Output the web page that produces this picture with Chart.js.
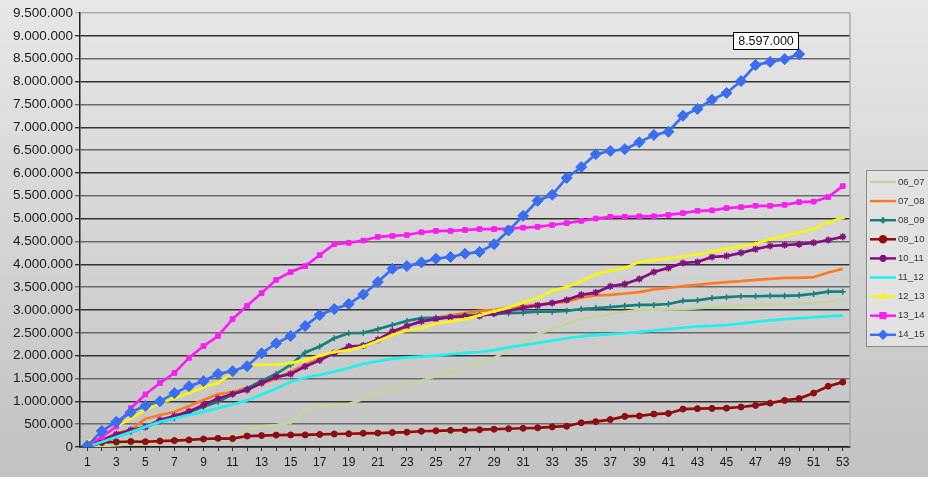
<!DOCTYPE html>
<html>
<head>
<meta charset="utf-8">
<script src="https://cdn.jsdelivr.net/npm/chart.js@4/dist/chart.umd.min.js"></script>
<style>
  html, body { margin: 0; padding: 0; background: #d4d4d4; }
  #wrap { position: relative; width: 928px; height: 477px; }
</style>
</head>
<body>
<div id="wrap"><canvas id="c" width="928" height="477"></canvas></div>
<script>
// Week numbers of the season
const weeks = ['1','2','3','4','5','6','7','8','9','10','11','12','13','14','15','16','17','18','19','20',
  '21','22','23','24','25','26','27','28','29','30','31','32','33','34','35','36','37','38','39','40',
  '41','42','43','44','45','46','47','48','49','50','51','52','53'];

// Cumulative totals per season
const s06_07 = [0,20000,40000,60000,80000,100000,120000,140000,160000,180000,250000,380000,450000,480000,530000,800000,890000,910000,940000,1050000,
  1200000,1280000,1380000,1450000,1550000,1640000,1740000,1840000,1950000,2120000,2280000,2480000,2580000,2700000,2800000,2860000,2900000,2960000,3000000,3000000,
  3010000,3020000,3040000,3060000,3080000,3100000,3110000,3120000,3130000,3140000,3150000,3180000,3240000];
const s07_08 = [0,150000,300000,380000,620000,700000,770000,900000,1030000,1160000,1200000,1300000,1380000,1500000,1650000,1800000,1930000,2050000,2150000,2200000,
  2320000,2480000,2650000,2750000,2820000,2880000,2930000,2980000,3000000,3050000,3080000,3120000,3150000,3180000,3270000,3320000,3330000,3360000,3390000,3450000,
  3480000,3520000,3550000,3580000,3610000,3630000,3660000,3680000,3700000,3700000,3720000,3820000,3900000];
const s08_09 = [0,100000,220000,330000,440000,550000,630000,760000,880000,990000,1150000,1280000,1450000,1600000,1800000,2070000,2200000,2380000,2490000,2500000,
  2580000,2670000,2760000,2820000,2830000,2850000,2880000,2890000,2910000,2930000,2940000,2960000,2960000,2980000,3020000,3040000,3060000,3090000,3110000,3110000,
  3130000,3200000,3210000,3260000,3280000,3300000,3300000,3310000,3310000,3320000,3350000,3400000,3400000];
const s09_10 = [0,100000,110000,120000,115000,130000,140000,155000,175000,190000,185000,240000,250000,260000,265000,265000,275000,285000,290000,300000,
  305000,315000,325000,345000,355000,365000,370000,380000,390000,400000,410000,420000,440000,455000,530000,555000,600000,670000,680000,720000,
  735000,830000,840000,845000,850000,875000,910000,960000,1020000,1060000,1180000,1330000,1420000];
const s10_11 = [0,150000,280000,370000,440000,590000,680000,780000,920000,1060000,1160000,1250000,1400000,1530000,1600000,1760000,1900000,2060000,2200000,2220000,
  2350000,2530000,2650000,2750000,2800000,2840000,2860000,2870000,2920000,2980000,3050000,3100000,3150000,3220000,3330000,3380000,3520000,3570000,3680000,3830000,
  3920000,4030000,4050000,4160000,4180000,4250000,4330000,4400000,4420000,4440000,4470000,4530000,4600000];
const s11_12 = [0,110000,220000,330000,440000,550000,630000,700000,770000,850000,930000,1020000,1150000,1280000,1420000,1520000,1580000,1650000,1730000,1820000,
  1880000,1930000,1960000,1980000,2000000,2030000,2060000,2080000,2120000,2180000,2230000,2280000,2330000,2380000,2420000,2450000,2470000,2490000,2520000,2550000,
  2580000,2610000,2640000,2650000,2670000,2700000,2740000,2770000,2800000,2820000,2840000,2860000,2880000];
const s12_13 = [120000,270000,440000,630000,810000,960000,1070000,1180000,1310000,1400000,1620000,1800000,1800000,1800000,1840000,1900000,2000000,2080000,2120000,2200000,
  2320000,2450000,2550000,2600000,2700000,2750000,2800000,2880000,2970000,3050000,3170000,3260000,3420000,3500000,3630000,3780000,3860000,3920000,4050000,4090000,
  4130000,4170000,4220000,4270000,4340000,4390000,4450000,4550000,4620000,4700000,4770000,4920000,5020000];
const s13_14 = [30000,220000,450000,850000,1150000,1400000,1620000,1950000,2210000,2430000,2800000,3090000,3370000,3660000,3830000,3960000,4200000,4440000,4470000,4520000,
  4600000,4620000,4640000,4700000,4730000,4730000,4750000,4770000,4770000,4780000,4800000,4820000,4860000,4900000,4950000,5000000,5040000,5040000,5050000,5050000,
  5080000,5120000,5170000,5180000,5230000,5250000,5280000,5280000,5300000,5360000,5370000,5470000,5710000];
const s14_15 = [30000,350000,550000,760000,900000,1000000,1180000,1330000,1440000,1600000,1660000,1770000,2050000,2270000,2430000,2650000,2890000,3020000,3130000,3340000,
  3610000,3900000,3960000,4040000,4120000,4160000,4230000,4270000,4440000,4740000,5060000,5390000,5520000,5890000,6130000,6410000,6480000,6520000,6670000,6830000,
  6900000,7250000,7400000,7600000,7750000,8010000,8360000,8430000,8490000,8597000];

// Value axis ticks
const yTicks = [0,500000,1000000,1500000,2000000,2500000,3000000,3500000,4000000,4500000,5000000,
  5500000,6000000,6500000,7000000,7500000,8000000,8500000,9000000,9500000];

const fmt = v => String(Math.round(v)).replace(/\B(?=(\d{3})+(?!\d))/g, '.');
const FONT = '"Liberation Sans", Arial, sans-serif';

function series(label, data, color, pointStyle, radius, width, order) {
  return {
    label, data, order,
    borderColor: color, backgroundColor: color,
    borderWidth: width,
    pointStyle: pointStyle || 'circle',
    pointRadius: pointStyle ? radius : 0,
    pointHoverRadius: pointStyle ? radius : 0,
    pointBorderWidth: pointStyle === 'cross' || pointStyle === 'star' ? 1.5 : 1,
    pointBorderColor: color, pointBackgroundColor: color,
    tension: 0, fill: false
  };
}

const datasets = [
  series('06_07', s06_07, '#c3d59c', null, 0, 2.7, 8),
  series('07_08', s07_08, '#ff7a22', null, 0, 2.7, 7),
  series('08_09', s08_09, '#16807a', 'cross', 3, 2.7, 6),
  series('09_10', s09_10, '#8e0d0d', 'circle', 3, 2.7, 5),
  series('10_11', s10_11, '#82107f', 'star', 3.5, 2.7, 4),
  series('11_12', s11_12, '#1ff0f0', null, 0, 2.7, 3),
  series('12_13', s12_13, '#f5f51a', 'triangle', 2, 2.7, 2),
  series('13_14', s13_14, '#f81ff0', 'rect', 3.3, 2.7, 1),
  series('14_15', s14_15, '#3a6ef0', 'rectRot', 5.5, 2.7, 0)
];

// Grey gradient behind the whole chart, plot frame and legend
const decor = {
  id: 'decor',
  beforeDraw(chart) {
    const { ctx, width, height } = chart;
    const g = ctx.createLinearGradient(0, 0, 0, height);
    g.addColorStop(0, '#e7e7e7');
    g.addColorStop(1, '#c2c2c2');
    ctx.save();
    ctx.fillStyle = g;
    ctx.fillRect(0, 0, width, height);
    ctx.restore();
  },
  afterDraw(chart) {
    const { ctx, chartArea: a } = chart;
    ctx.save();
    ctx.strokeStyle = '#a8a8a8';
    ctx.lineWidth = 1.5;
    ctx.beginPath();
    ctx.moveTo(a.right, a.top);
    ctx.lineTo(a.right, a.bottom);
    ctx.stroke();

    // Legend box
    const lx = 866.5, ly = 170.5;
    ctx.fillStyle = '#e2e2e2';
    ctx.strokeStyle = '#8a8a8a';
    ctx.lineWidth = 1;
    ctx.fillRect(lx, ly, 70, 176);
    ctx.strokeRect(lx, ly, 70, 176);
    ctx.font = '9.5px ' + FONT;
    ctx.textBaseline = 'middle';
    ctx.textAlign = 'left';
    chart.data.datasets.forEach((ds, i) => {
      const y = 182 + i * 19.1;
      ctx.strokeStyle = ds.borderColor;
      ctx.lineWidth = 2.5;
      ctx.beginPath();
      ctx.moveTo(870, y);
      ctx.lineTo(896, y);
      ctx.stroke();
      if (ds.pointRadius > 0) {
        Chart.helpers.drawPoint(ctx, {
          pointStyle: ds.pointStyle,
          radius: Math.min(ds.pointRadius, 3.5),
          borderWidth: ds.pointBorderWidth
        }, 883, y);
        ctx.fillStyle = ds.borderColor;
        ctx.fill();
      }
      ctx.fillStyle = '#333';
      ctx.fillText(ds.label, 898, y);
    });
    ctx.restore();
  },
  afterDatasetsDraw(chart) {
    // Value label on the last point of the latest season
    const idx = chart.data.datasets.length - 1;
    const meta = chart.getDatasetMeta(idx);
    const data = chart.data.datasets[idx].data;
    const pt = meta.data[data.length - 1];
    const text = fmt(data[data.length - 1]);
    const { ctx } = chart;
    ctx.save();
    ctx.font = '12.5px ' + FONT;
    const w = ctx.measureText(text).width + 9;
    const h = 17;
    const right = pt.x - 2, bottom = pt.y - 5;
    const bx = Math.round(right - w) + 0.5, by = Math.round(bottom - h) + 0.5, bw = Math.round(w);
    ctx.fillStyle = '#ffffff';
    ctx.fillRect(bx, by, bw, h);
    ctx.strokeStyle = '#000';
    ctx.lineWidth = 1;
    ctx.strokeRect(bx, by, bw, h);
    ctx.fillStyle = '#111';
    ctx.textAlign = 'center';
    ctx.textBaseline = 'middle';
    ctx.fillText(text, bx + bw / 2, by + h / 2 + 0.5);
    ctx.restore();
  }
};

new Chart(document.getElementById('c'), {
  type: 'line',
  data: { labels: weeks, datasets },
  plugins: [decor],
  options: {
    responsive: false,
    animation: false,
    events: [],
    layout: { padding: { top: 13, right: 78, bottom: 0, left: 0 } },
    plugins: { legend: { display: false }, tooltip: { enabled: false }, title: { display: false } },
    scales: {
      x: {
        type: 'category',
        offset: true,
        afterFit(scale) { scale.height = 30; },
        border: { display: true, color: '#202020', width: 1.5 },
        grid: { drawOnChartArea: false, drawTicks: true, tickLength: 4, color: '#303030', offset: false },
        ticks: {
          autoSkip: false, maxRotation: 0, minRotation: 0, padding: 4,
          color: '#1a1a1a', font: { family: FONT, size: 12 },
          callback(v, i) { return i % 2 === 0 ? weeks[i] : ''; }
        }
      },
      y: {
        min: 0, max: 9500000,
        afterFit(scale) { scale.width = 80; },
        afterBuildTicks(scale) { scale.ticks = yTicks.map(v => ({ value: v })); },
        border: { display: true, color: '#202020', width: 1.5 },
        grid: {
          drawTicks: true, tickLength: 5,
          color(ctx) {
            const v = ctx.tick ? ctx.tick.value : 0;
            if (v === 9500000) return '#ababab';
            return v % 1000000 === 0 ? '#333333' : '#6a6a6a';
          },
          lineWidth: 1.4
        },
        ticks: {
          padding: 2, color: '#1a1a1a', font: { family: FONT, size: 13.5 },
          callback: v => fmt(v)
        }
      }
    }
  }
});
</script>
</body>
</html>
